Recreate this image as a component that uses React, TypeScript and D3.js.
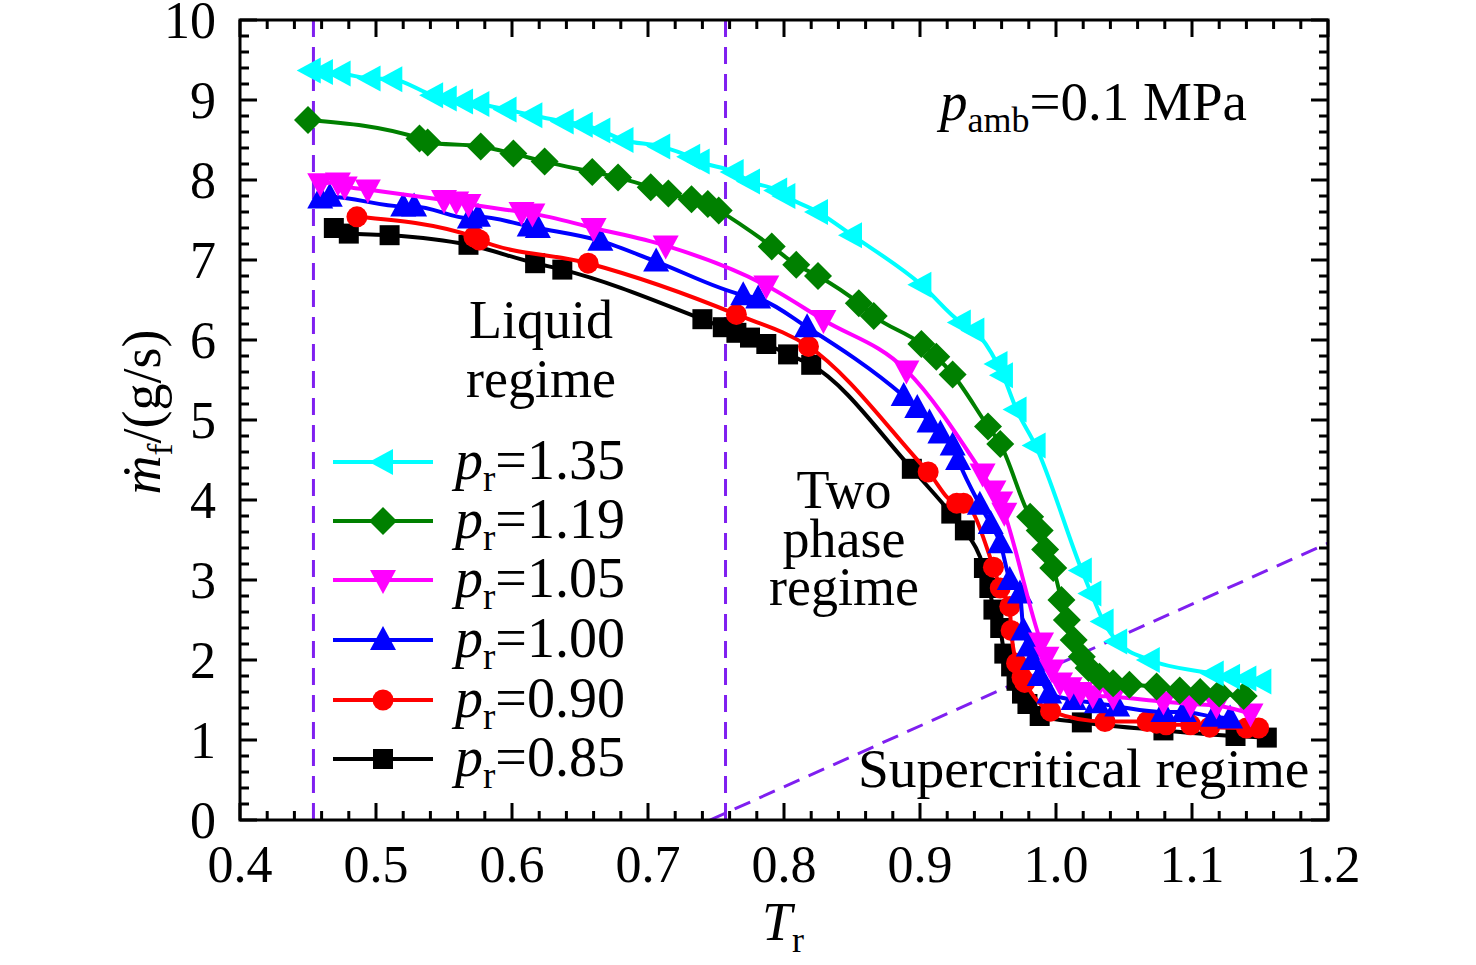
import React from "react";
import * as d3 from "d3";

// reduced temperature / mass flow rate readings per reduced pressure
const pr135: [number, number][] = [
  [0.452, 9.37], [0.461, 9.35], [0.474, 9.33], [0.496, 9.27], [0.512, 9.26],
  [0.542, 9.06], [0.552, 9.02], [0.564, 8.98], [0.576, 8.95], [0.596, 8.88],
  [0.615, 8.81], [0.638, 8.73], [0.652, 8.69], [0.665, 8.62], [0.682, 8.5],
  [0.709, 8.42], [0.731, 8.29], [0.738, 8.23], [0.763, 8.1], [0.775, 7.98],
  [0.795, 7.87], [0.801, 7.8], [0.825, 7.6], [0.85, 7.31], [0.901, 6.69],
  [0.93, 6.22], [0.94, 6.12], [0.957, 5.7], [0.961, 5.56], [0.971, 5.13],
  [0.985, 4.68], [1.019, 3.12], [1.026, 2.83], [1.035, 2.48], [1.045, 2.23],
  [1.069, 2.0], [1.116, 1.83], [1.128, 1.79], [1.14, 1.77], [1.151, 1.73],
];
const pr119: [number, number][] = [
  [0.45, 8.75], [0.532, 8.52], [0.538, 8.47], [0.577, 8.42], [0.601, 8.33],
  [0.624, 8.23], [0.659, 8.1], [0.678, 8.03], [0.702, 7.91], [0.715, 7.83],
  [0.732, 7.76], [0.744, 7.7], [0.752, 7.62], [0.791, 7.17], [0.809, 6.94],
  [0.825, 6.8], [0.855, 6.46], [0.866, 6.3], [0.901, 5.95], [0.912, 5.79],
  [0.924, 5.57], [0.95, 4.92], [0.959, 4.7], [0.981, 3.79], [0.988, 3.62],
  [0.992, 3.38], [0.998, 3.15], [1.004, 2.75], [1.008, 2.5], [1.013, 2.25],
  [1.019, 2.04], [1.024, 1.9], [1.032, 1.79], [1.042, 1.71], [1.054, 1.69],
  [1.074, 1.67], [1.091, 1.62], [1.106, 1.6], [1.12, 1.58], [1.138, 1.55],
];
const pr105: [number, number][] = [
  [0.459, 7.96], [0.472, 7.97], [0.477, 7.92], [0.494, 7.88], [0.55, 7.75],
  [0.559, 7.73], [0.568, 7.7], [0.607, 7.6], [0.615, 7.58], [0.66, 7.4],
  [0.713, 7.18], [0.787, 6.68], [0.829, 6.25], [0.89, 5.62], [0.946, 4.33],
  [0.954, 4.12], [0.959, 3.98], [0.962, 3.84], [0.989, 2.22], [0.993, 2.04],
  [0.997, 1.88], [1.003, 1.72], [1.01, 1.66], [1.018, 1.6], [1.027, 1.56],
  [1.042, 1.54], [1.079, 1.48], [1.099, 1.45], [1.118, 1.43], [1.143, 1.33],
];
const pr100: [number, number][] = [
  [0.459, 7.77], [0.466, 7.79], [0.52, 7.67], [0.528, 7.67], [0.569, 7.52],
  [0.575, 7.54], [0.613, 7.42], [0.619, 7.4], [0.665, 7.24], [0.706, 6.98],
  [0.77, 6.56], [0.781, 6.52], [0.817, 6.16], [0.888, 5.3], [0.898, 5.15],
  [0.907, 4.97], [0.915, 4.83], [0.924, 4.68], [0.928, 4.5], [0.944, 3.94],
  [0.952, 3.7], [0.959, 3.46], [0.966, 3.0], [0.9735, 2.83], [0.976, 2.37],
  [0.98, 2.17], [0.983, 2.0], [0.988, 1.8], [0.995, 1.58], [1.013, 1.5],
  [1.03, 1.46], [1.045, 1.42], [1.079, 1.35], [1.094, 1.35], [1.116, 1.29],
  [1.128, 1.27],
];
const pr090: [number, number][] = [
  [0.486, 7.54], [0.572, 7.29], [0.576, 7.25], [0.656, 6.96], [0.765, 6.32],
  [0.818, 5.92], [0.906, 4.35], [0.927, 3.96], [0.932, 3.96], [0.954, 3.16],
  [0.959, 2.9], [0.966, 2.67], [0.967, 2.37], [0.971, 1.96], [0.975, 1.78],
  [0.977, 1.72], [0.996, 1.36], [1.036, 1.23], [1.067, 1.23], [1.074, 1.21],
  [1.081, 1.19], [1.099, 1.19], [1.113, 1.16], [1.14, 1.15], [1.149, 1.15],
];
const pr085: [number, number][] = [
  [0.469, 7.4], [0.48, 7.33], [0.51, 7.31], [0.568, 7.19], [0.617, 6.96],
  [0.637, 6.88], [0.74, 6.26], [0.755, 6.16], [0.765, 6.09], [0.775, 6.03],
  [0.787, 5.95], [0.803, 5.82], [0.82, 5.69], [0.894, 4.39], [0.923, 3.83],
  [0.933, 3.62], [0.947, 3.15], [0.951, 2.9], [0.954, 2.63], [0.959, 2.4],
  [0.962, 2.08], [0.967, 1.92], [0.971, 1.74], [0.975, 1.58], [0.979, 1.45],
  [0.988, 1.3], [1.019, 1.22], [1.079, 1.12], [1.132, 1.05], [1.155, 1.03],
];

const seriesLabels = ["1.35", "1.19", "1.05", "1.00", "0.90", "0.85"];
const seriesColors = ["#00ffff", "#008000", "#ff00ff", "#0000ff", "#ff0000", "#000000"];
const seriesMarkers = ["left", "diamond", "down", "up", "circle", "square"];
const seriesData = [pr135, pr119, pr105, pr100, pr090, pr085];

// regime boundaries (dashed)
const boundaryLeft = 0.454;
const boundaryRight = 0.757;
const supercriticalLine: [number, number][] = [[0.7456, 0], [1.2, 3.46]];

const W = 1476;
const H = 965;
const M = { left: 240, right: 1328, top: 20, bottom: 820 };
const FONT = "'Liberation Serif', 'Times New Roman', serif";
const DASH = "#7f1ff0";

const x = d3.scaleLinear().domain([0.4, 1.2]).range([M.left, M.right]);
const y = d3.scaleLinear().domain([0, 10]).range([M.bottom, M.top]);

function markerPath(kind: string): string | null {
  switch (kind) {
    case "left":
      return "M-14,0L10,-13L10,13Z";
    case "diamond":
      return "M0,-14L14,0L0,14L-14,0Z";
    case "down":
      return "M-13,-10L13,-10L0,14Z";
    case "up":
      return "M-13,10L13,10L0,-14Z";
    case "square":
      return "M-10,-10L10,-10L10,10L-10,10Z";
    default:
      return null;
  }
}

const Marker = ({ kind, color, cx, cy }: { kind: string; color: string; cx: number; cy: number }) => {
  const d = markerPath(kind);
  if (!d) return <circle cx={cx} cy={cy} r={10.5} fill={color} />;
  return <path d={d} transform={`translate(${cx},${cy})`} fill={color} />;
};

export default function App() {
  const line = d3
    .line<[number, number]>()
    .x((d) => x(d[0]))
    .y((d) => y(d[1]))
    .curve(d3.curveMonotoneX);

  const xMajor = x.ticks(8);
  const xMinor = x.ticks(40);
  const yMajor = y.ticks(10);
  const yMinor = y.ticks(50);
  const fmtX = d3.format(".1f");

  const order = [5, 4, 3, 2, 1, 0];
  const legendY = [462, 521, 580, 640, 700, 759];

  return (
    <svg
      width={W}
      height={H}
      style={{ position: "absolute", left: 0, top: 0, background: "#fff" }}
      fontFamily={FONT}
    >
      <defs>
        <clipPath id="plot">
          <rect x={M.left} y={M.top} width={M.right - M.left} height={M.bottom - M.top} />
        </clipPath>
      </defs>

      {/* regime boundaries */}
      <g clipPath="url(#plot)" stroke={DASH} strokeWidth={3} strokeDasharray="17,10" fill="none">
        <line x1={x(boundaryLeft)} x2={x(boundaryLeft)} y1={y(10)} y2={y(0)} />
        <line x1={x(boundaryRight)} x2={x(boundaryRight)} y1={y(10)} y2={y(0)} />
        <line
          x1={x(supercriticalLine[0][0])}
          y1={y(supercriticalLine[0][1])}
          x2={x(supercriticalLine[1][0])}
          y2={y(supercriticalLine[1][1])}
        />
      </g>

      {/* series */}
      {order.map((i) => (
        <g key={seriesLabels[i]}>
          <path d={line(seriesData[i]) ?? ""} fill="none" stroke={seriesColors[i]} strokeWidth={4} />
          {seriesData[i].map((d, j) => (
            <Marker key={j} kind={seriesMarkers[i]} color={seriesColors[i]} cx={x(d[0])} cy={y(d[1])} />
          ))}
        </g>
      ))}

      {/* axes frame and ticks */}
      <rect
        x={M.left}
        y={M.top}
        width={M.right - M.left}
        height={M.bottom - M.top}
        fill="none"
        stroke="#000"
        strokeWidth={3}
      />
      <g stroke="#000" strokeWidth={3}>
        {xMinor.map((t) => {
          const major = xMajor.some((m) => Math.abs(m - t) < 1e-9);
          const len = major ? 17 : 9;
          return (
            <g key={"x" + t}>
              <line x1={x(t)} x2={x(t)} y1={M.bottom} y2={M.bottom - len} />
              <line x1={x(t)} x2={x(t)} y1={M.top} y2={M.top + len} />
            </g>
          );
        })}
        {yMinor.map((t) => {
          const major = yMajor.some((m) => Math.abs(m - t) < 1e-9);
          const len = major ? 17 : 9;
          return (
            <g key={"y" + t}>
              <line x1={M.left} x2={M.left + len} y1={y(t)} y2={y(t)} />
              <line x1={M.right} x2={M.right - len} y1={y(t)} y2={y(t)} />
            </g>
          );
        })}
      </g>
      <g fontSize={52} fill="#000">
        {xMajor.map((t) => (
          <text key={"xl" + t} x={x(t)} y={882} textAnchor="middle">
            {fmtX(t)}
          </text>
        ))}
        {yMajor.map((t) => (
          <text key={"yl" + t} x={216} y={y(t) + 18} textAnchor="end">
            {t}
          </text>
        ))}
      </g>

      {/* axis titles */}
      <text x={762} y={940} fontSize={54}>
        <tspan fontStyle="italic">T</tspan>
        <tspan fontSize={36} dy={12}>r</tspan>
      </text>
      <text transform="translate(160,412) rotate(-90)" textAnchor="middle" fontSize={54}>
        <tspan fontStyle="italic">ṁ</tspan>
        <tspan fontSize={36} dy={12}>f</tspan>
        <tspan dy={-12}>/(g/s)</tspan>
      </text>

      {/* annotations */}
      <text x={940} y={120} fontSize={55}>
        <tspan fontStyle="italic">p</tspan>
        <tspan fontSize={36} dy={12}>amb</tspan>
        <tspan dy={-12}>=0.1 MPa</tspan>
      </text>
      <g fontSize={54} textAnchor="middle">
        <text x={541} y={338}>Liquid</text>
        <text x={541} y={397}>regime</text>
        <text x={844} y={508}>Two</text>
        <text x={844} y={557}>phase</text>
        <text x={844} y={605}>regime</text>
      </g>
      <text x={858} y={787} fontSize={55.5}>
        Supercritical regime
      </text>

      {/* legend */}
      {seriesLabels.map((lab, i) => (
        <g key={"lg" + lab}>
          <line x1={333} x2={433} y1={legendY[i]} y2={legendY[i]} stroke={seriesColors[i]} strokeWidth={4} />
          <Marker kind={seriesMarkers[i]} color={seriesColors[i]} cx={383} cy={legendY[i]} />
          <text x={455} y={legendY[i] + 17} fontSize={56}>
            <tspan fontStyle="italic">p</tspan>
            <tspan fontSize={37} dy={12}>r</tspan>
            <tspan dy={-12}>={lab}</tspan>
          </text>
        </g>
      ))}
    </svg>
  );
}
